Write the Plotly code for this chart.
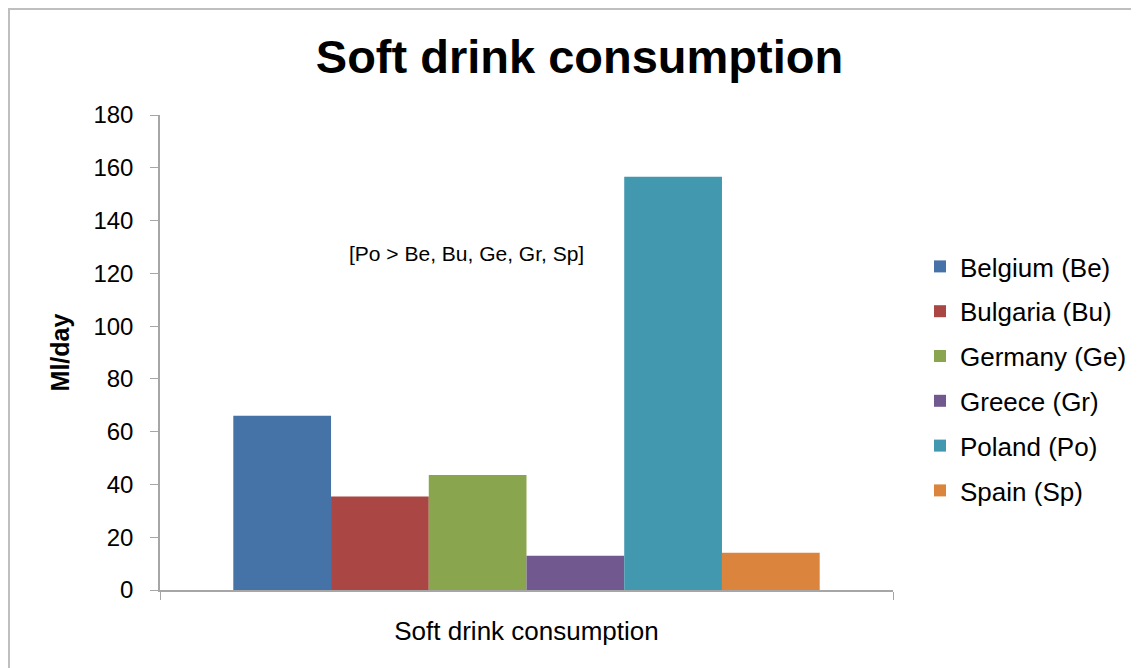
import plotly.graph_objects as go

categories = ["Soft drink consumption"]
countries = ["Belgium (Be)", "Bulgaria (Bu)", "Germany (Ge)", "Greece (Gr)", "Poland (Po)", "Spain (Sp)"]
values = [66.0, 35.4, 43.6, 13.0, 156.6, 14.1]
colors = ["#4572A7", "#AA4643", "#89A54E", "#71588F", "#4198AF", "#DB843D"]
y_ticks = [0, 20, 40, 60, 80, 100, 120, 140, 160, 180]

# page body has an 8px margin; figure coordinates = screen - 8
W, H = 1131, 660
L, R, T, B = 152, 246, 107, 78
pw = W - L - R
ph = H - T - B

fig = go.Figure()
for i, (name, v, c) in enumerate(zip(countries, values, colors)):
    fig.add_trace(go.Bar(
        x=categories, y=[v], name=name, marker=dict(color=c, line=dict(width=0)),
        legendgroup=f"g{i}",
    ))

FONT = "Liberation Sans, Arial, sans-serif"

fig.update_layout(
    width=W, height=H,
    margin=dict(l=L, r=R, t=T, b=B, autoexpand=False),
    paper_bgcolor="white", plot_bgcolor="white",
    font=dict(family=FONT, color="#000000", size=24),
    barmode="group", bargap=0.2, bargroupgap=0,
    title=dict(text="<b>Soft drink consumption</b>", x=571.5 / W, xanchor="center",
               y=1 - 49 / H, yanchor="middle",
               font=dict(size=47, family=FONT)),
    showlegend=True,
    legend=dict(x=(912 - L) / pw, xanchor="left", y=(H - B - 235) / ph, yanchor="top",
                traceorder="grouped", tracegroupgap=8,
                font=dict(size=26), itemwidth=30, bgcolor="rgba(0,0,0,0)"),
    xaxis=dict(showline=True, linecolor="#A6A6A6", linewidth=1.5, ticks="outside",
               tickson="boundaries", ticklen=8, tickcolor="#A6A6A6", showgrid=False,
               tickfont=dict(size=26), zeroline=False, ticklabelstandoff=17),
    yaxis=dict(range=[0, 180], tickvals=y_ticks, showline=True, linecolor="#A6A6A6",
               linewidth=1.5, ticks="outside", ticklen=8, tickcolor="#A6A6A6",
               showgrid=False, zeroline=False, tickfont=dict(size=24),
               ticklabelstandoff=12,
               title=dict(text="<b>Ml/day</b>", font=dict(size=25), standoff=17)),
    annotations=[dict(text="[Po > Be, Bu, Ge, Gr, Sp]", xref="paper", yref="y",
                      x=(458 - L) / pw, y=(582 - 245) / (ph / 180), showarrow=False,
                      font=dict(size=21), xanchor="center", yanchor="middle")],
    shapes=[dict(type="rect", xref="paper", yref="paper",
                 x0=(1 - L) / pw, x1=(W + 20 - L) / pw,
                 y0=-(B + 20) / ph, y1=(ph + T - 1) / ph,
                 line=dict(color="#BFBFBF", width=2), layer="below")],
)

fig.write_html("out.html")
